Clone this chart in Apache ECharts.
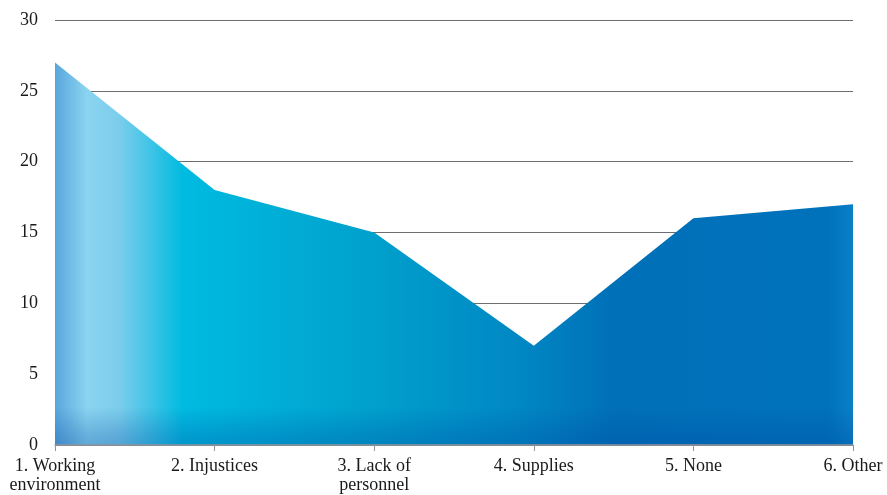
<!DOCTYPE html>
<html>
<head>
<meta charset="utf-8">
<script src="https://cdn.jsdelivr.net/npm/echarts@6/dist/echarts.min.js"></script>
<style>
  html, body { margin: 0; padding: 0; background: #fff; }
  #chart { width: 887px; height: 495px; }
</style>
</head>
<body>
<div id="chart"></div>
<script>
// Categories along the x axis
const categories = [
  '1. Working\nenvironment',
  '2. Injustices',
  '3. Lack of\npersonnel',
  '4. Supplies',
  '5. None',
  '6. Other'
];
// Values for each category
const values = [27, 18, 15, 7, 16, 17];
// Y axis scale
const yMin = 0;
const yMax = 30;
const yStep = 5;

const chart = echarts.init(document.getElementById('chart'));
const font = '"Liberation Serif", "DejaVu Serif", serif';

chart.setOption({
  animation: false,
  grid: { left: 55, right: 34, top: 20, bottom: 49 },
  xAxis: {
    type: 'category',
    data: categories,
    boundaryGap: false,
    axisLine: { lineStyle: { color: '#8f96a0', width: 1.5 } },
    axisTick: { alignWithLabel: true, length: 6, lineStyle: { color: '#8f96a0' } },
    axisLabel: {
      color: '#1a1a1a',
      fontFamily: font,
      fontSize: 18,
      lineHeight: 19,
      margin: 12,
      interval: 0
    },
    splitLine: { show: false },
    z: 5
  },
  yAxis: {
    type: 'value',
    min: yMin,
    max: yMax,
    interval: yStep,
    axisLine: { show: false },
    axisTick: { show: false },
    axisLabel: {
      color: '#1a1a1a',
      fontFamily: font,
      fontSize: 18,
      margin: 17
    },
    splitLine: { lineStyle: { color: '#6e6e6e', width: 1 } }
  },
  series: [
    {
      // main filled area with the horizontal colour sweep
      type: 'line',
      data: values,
      symbol: 'none',
      lineStyle: { width: 0 },
      areaStyle: {
        opacity: 1,
        color: new echarts.graphic.LinearGradient(0, 0, 1, 0, [
          { offset: 0.0, color: '#5aa6dc' },
          { offset: 0.04, color: '#8ad4f0' },
          { offset: 0.08, color: '#7ccdec' },
          { offset: 0.16, color: '#00bbe0' },
          { offset: 0.40, color: '#00a0cc' },
          { offset: 0.58, color: '#0088c4' },
          { offset: 0.70, color: '#0070b8' },
          { offset: 0.97, color: '#0072bc' },
          { offset: 1.0, color: '#0a80c6' }
        ])
      },
      z: 2
    },
    {
      // darker shading along the bottom of the area
      type: 'line',
      data: values,
      symbol: 'none',
      lineStyle: { width: 0 },
      silent: true,
      areaStyle: {
        opacity: 1,
        color: new echarts.graphic.LinearGradient(0, 0, 0, 1, [
          { offset: 0.0, color: 'rgba(0,70,160,0)' },
          { offset: 0.9, color: 'rgba(0,70,160,0)' },
          { offset: 0.975, color: 'rgba(0,70,160,0.25)' },
          { offset: 1.0, color: 'rgba(0,70,160,0.3)' }
        ])
      },
      z: 3
    }
  ]
});
</script>
</body>
</html>
